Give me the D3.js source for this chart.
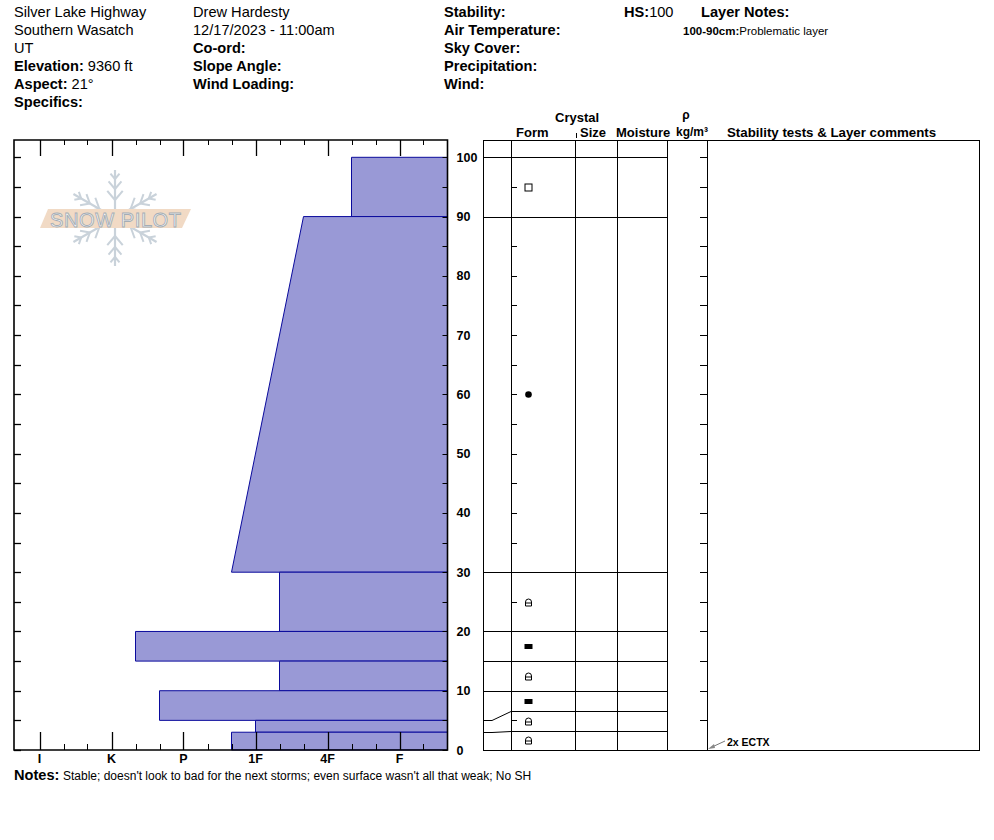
<!DOCTYPE html>
<html>
<head>
<meta charset="utf-8">
<script src="https://cdn.jsdelivr.net/npm/d3@7"></script>
<style>
  body { margin: 0; background: #fff; }
  svg { display: block; font-family: "Liberation Sans", Arial, sans-serif; }
  text { white-space: pre; }
</style>
</head>
<body>
<svg id="pit"></svg>
<script>
// ---- data ----
var depthTop    = [100, 90, 30, 20, 15, 10, 5, 3];
var depthBottom = [90, 30, 20, 15, 10, 5, 3, 0];
var hardTop     = ["4F-", "4F+", "1F-", "K-", "1F-", "P+", "1F", "1F+"];
var hardBottom  = ["4F-", "1F+", "1F-", "K-", "1F-", "P+", "1F", "1F+"];
var grainForm   = ["FC", "RG", "MFcr", "IF", "MFcr", "IF", "MFcr", "MFcr"];

// hardness steps, from the soft (right) end
var hardnessLevels = ["F-", "F", "F+", "4F-", "4F", "4F+", "1F-", "1F", "1F+",
                      "P-", "P", "P+", "K-", "K", "K+", "I-", "I"];
var hardnessLabels = ["F", "4F", "1F", "P", "K", "I"];
var depthLabels = [0, 10, 20, 30, 40, 50, 60, 70, 80, 90, 100];
var depthTicks = [0, 5, 10, 15, 20, 25, 30, 35, 40, 45, 50, 55, 60, 65, 70, 75, 80, 85, 90, 95, 100];

var testDepths = [0];
var testLabels = ["2x ECTX"];

var siteLines = [["", "Silver Lake Highway"], ["", "Southern Wasatch"], ["", "UT"],
                 ["Elevation:", " 9360 ft"], ["Aspect:", " 21°"], ["Specifics:", ""]];
var obsLines  = [["", "Drew Hardesty"], ["", "12/17/2023 - 11:00am"], ["Co-ord:", ""],
                 ["Slope Angle:", ""], ["Wind Loading:", ""]];
var wxLines   = [["Stability:", ""], ["Air Temperature:", ""], ["Sky Cover:", ""],
                 ["Precipitation:", ""], ["Wind:", ""]];
var snowHeight = "100";
var layerNotes = [["100-90cm:", "Problematic layer"]];
var notes = "Stable; doesn't look to bad for the next storms; even surface wasn't all that weak; No SH";

// ---- setup ----
var W = 994, H = 840;
var svg = d3.select("#pit").attr("width", W).attr("height", H);
svg.append("rect").attr("width", W).attr("height", H).attr("fill", "#fff");

var plotTop = 140, plotBottom = 750, plotLeft = 14, plotRight = 447.5;

var y = d3.scaleLinear().domain([0, 100]).range([plotBottom, 157.3]);
var x = d3.scaleLinear().domain([0, 18]).range([plotRight, 15.5]);
var hIdx = function(h) { return hardnessLevels.indexOf(h) + 1; };

function textLine(g, tx, ty, label, value, size) {
    var t = g.append("text").attr("x", tx).attr("y", ty)
        .style("font-size", size).attr("fill", "#000");
    if (label) t.append("tspan").attr("font-weight", "bold").text(label);
    if (value) t.append("tspan").text(value);
    return t;
}

// ---- header ----
var head = svg.append("g");
siteLines.forEach(function(d, i) { textLine(head, 14, 17 + i * 18, d[0], d[1], "14.6px"); });
obsLines.forEach(function(d, i) { textLine(head, 193, 17 + i * 18, d[0], d[1], "14.6px"); });
wxLines.forEach(function(d, i) { textLine(head, 444, 17 + i * 18, d[0], d[1], "14.6px"); });
textLine(head, 624, 17, "HS:", snowHeight, "14.6px");
textLine(head, 701, 17, "Layer Notes:", "", "14.6px");
layerNotes.forEach(function(d, i) { textLine(head, 683, 35 + i * 14, d[0], d[1], "11.5px"); });

// ---- logo ----
var logo = svg.append("g").attr("transform", "translate(115,218)");
var flakeCol = "#c9d2da";
[90, 30, -30, -90, 150, 210].forEach(function(a) {
    var r = a * Math.PI / 180;
    var ux = Math.cos(r), uy = -Math.sin(r);
    logo.append("line").attr("x1", 0).attr("y1", 0).attr("x2", ux * 48).attr("y2", uy * 48)
        .attr("stroke", flakeCol).attr("stroke-width", 2.2);
    [[18, 12], [29, 10], [39, 7]].forEach(function(b) {
        [-1, 1].forEach(function(s) {
            var br = r + s * 0.7;
            logo.append("line")
                .attr("x1", ux * b[0]).attr("y1", uy * b[0])
                .attr("x2", ux * b[0] + Math.cos(br) * b[1]).attr("y2", uy * b[0] - Math.sin(br) * b[1])
                .attr("stroke", flakeCol).attr("stroke-width", 2);
        });
    });
});
logo.append("polygon").attr("points", "-75,10 -67,-9 76,-9 67,10").attr("fill", "#f1dac5");
logo.append("text").attr("x", -65).attr("y", 8.5).attr("textLength", 131)
    .style("font-size", "20px").attr("fill", "#f8f8f8").attr("stroke", "#a4adb5").attr("stroke-width", 0.9)
    .text("SNOW PILOT");

// ---- hardness profile ----
var prof = svg.append("g");
depthTop.forEach(function(t, i) {
    var pts = [[x(0), y(t)], [x(hIdx(hardTop[i])), y(t)],
               [x(hIdx(hardBottom[i])), y(depthBottom[i])], [x(0), y(depthBottom[i])]];
    prof.append("polygon").attr("points", pts.map(function(p) { return p.join(","); }).join(" "))
        .attr("fill", "#9999d6").attr("stroke", "#0a0a9c").attr("stroke-width", 1);
});

// hardness ticks top and bottom
hardnessLevels.forEach(function(h, i) {
    var major = hardnessLabels.indexOf(h) >= 0;
    var xx = Math.round(x(i + 1)) + 0.5;
    prof.append("line").attr("x1", xx).attr("x2", xx).attr("y1", plotBottom).attr("y2", plotBottom - (major ? 18 : 6))
        .attr("stroke", "#000").attr("stroke-width", major ? 1.3 : 1);
    prof.append("line").attr("x1", xx).attr("x2", xx).attr("y1", plotTop).attr("y2", plotTop + (major ? 16 : 5))
        .attr("stroke", "#000").attr("stroke-width", major ? 1.3 : 1);
    if (major) {
        prof.append("text").attr("x", x(i + 1)).attr("y", 762.5).attr("text-anchor", "middle")
            .attr("font-weight", "bold").style("font-size", "12.5px").text(h);
    }
});

// depth ticks on both sides of the profile
depthTicks.forEach(function(d) {
    var yy = Math.round(y(d)) + 0.5;
    prof.append("line").attr("x1", plotLeft).attr("x2", plotLeft + 7).attr("y1", yy).attr("y2", yy)
        .attr("stroke", "#000").attr("stroke-width", 1.3);
    prof.append("line").attr("x1", plotRight).attr("x2", plotRight - 5).attr("y1", yy).attr("y2", yy)
        .attr("stroke", "#000").attr("stroke-width", 1);
});
depthLabels.forEach(function(d) {
    prof.append("text").attr("x", 456.5).attr("y", y(d)).attr("dy", "0.36em")
        .attr("font-weight", "bold").style("font-size", "12.5px").text(d);
});

// frame
prof.append("path")
    .attr("d", "M" + plotLeft + "," + plotTop + "H" + plotRight + "V" + plotBottom + "H" + plotLeft + "Z")
    .attr("fill", "none").attr("stroke", "#000").attr("stroke-width", 1.6);

// ---- layer table ----
var tab = svg.append("g");
var tLeft = 483, cForm = 511, cSize = 575, cMoist = 617, cRho = 667, cStab = 707, tRight = 979, tTop = 140;
var thin = 1;

// display rows, spread out where layers are too thin for a symbol
var minRow = 19.5;
var rows = [];
var prevTop = y(0);
for (var k = depthTop.length - 1; k >= 0; k--) {
    var rowTop = Math.min(y(depthTop[k]), prevTop - minRow);
    rows[k] = { top: rowTop, bottom: prevTop };
    prevTop = rowTop;
}

// boundary lines
depthTop.forEach(function(t, i) {
    var yt = Math.round(y(t)) + 0.5, yd = Math.round(rows[i].top) + 0.5;
    tab.append("path")
        .attr("d", "M" + tLeft + "," + yt + "H" + (tLeft + 9) + "L" + cForm + "," + yd + "H" + cRho)
        .attr("fill", "none").attr("stroke", "#000").attr("stroke-width", thin);
});

// column lines and border
[cForm, cSize, cMoist, cRho, cStab].forEach(function(c) {
    tab.append("line").attr("x1", c + 0.5).attr("x2", c + 0.5).attr("y1", tTop).attr("y2", plotBottom + 0.5)
        .attr("stroke", "#000").attr("stroke-width", thin);
});
tab.append("rect").attr("x", tLeft + 0.5).attr("y", tTop + 0.5)
    .attr("width", tRight - tLeft).attr("height", plotBottom - tTop)
    .attr("fill", "none").attr("stroke", "#000").attr("stroke-width", thin);

// ticks inside form and density columns
depthTicks.forEach(function(d) {
    var yy = Math.round(y(d)) + 0.5;
    tab.append("line").attr("x1", cForm).attr("x2", cForm + 6).attr("y1", yy).attr("y2", yy)
        .attr("stroke", "#000").attr("stroke-width", 1);
    tab.append("line").attr("x1", cStab).attr("x2", cStab - 7).attr("y1", yy).attr("y2", yy)
        .attr("stroke", "#000").attr("stroke-width", 1);
});

// grain form symbols
var symX = 528;
grainForm.forEach(function(f, i) {
    var cy = Math.round((rows[i].top + rows[i].bottom) / 2) + 0.5;
    var g = tab.append("g").attr("transform", "translate(" + (symX + 0.5) + "," + cy + ")");
    if (f === "FC") {
        g.append("rect").attr("x", -3.5).attr("y", -3.5).attr("width", 7).attr("height", 7)
            .attr("fill", "none").attr("stroke", "#000").attr("stroke-width", 1);
    } else if (f === "RG") {
        g.append("circle").attr("r", 3.3).attr("fill", "#000");
    } else if (f === "IF") {
        g.append("rect").attr("x", -4).attr("y", -2.5).attr("width", 8).attr("height", 5).attr("fill", "#000");
    } else if (f === "MFcr") {
        g.append("path").attr("d", "M-3,3.5V-0.5A3,3 0 0 1 3,-0.5V3.5Z M-3,0.5H3")
            .attr("fill", "none").attr("stroke", "#000").attr("stroke-width", 1);
    }
});

// column headings
var hs = "13px";
textLine(tab, 555, 122, "Crystal", "", hs);
textLine(tab, 516, 137, "Form", "", hs);
textLine(tab, 580, 137, "Size", "", hs);
textLine(tab, 616, 137, "Moisture", "", hs);
textLine(tab, 676, 136, "kg/m³", "", "12px");
tab.append("text").attr("x", 686).attr("y", 119).attr("text-anchor", "middle")
    .attr("font-weight", "bold").style("font-size", "12px").text("ρ");
textLine(tab, 727, 137, "Stability tests & Layer comments", "", "13.3px");
tab.append("line").attr("x1", 576.5).attr("x2", 576.5).attr("y1", 133).attr("y2", 138)
    .attr("stroke", "#000").attr("stroke-width", 1);

// stability tests
testDepths.forEach(function(d, i) {
    var ty = y(d) - 1, tx = cStab + 1;
    tab.append("line").attr("x1", tx + 17).attr("y1", ty - 8).attr("x2", tx + 3).attr("y2", ty - 1.5)
        .attr("stroke", "#777").attr("stroke-width", 1);
    tab.append("polygon").attr("points", [tx, ty, tx + 6, ty - 5, tx + 7, ty - 1].join(","))
        .attr("fill", "#888");
    tab.append("text").attr("x", tx + 19).attr("y", ty - 3)
        .attr("font-weight", "bold").style("font-size", "10.5px").text(testLabels[i]);
});

// ---- notes ----
textLine(svg, 14, 779.5, "Notes:", "", "14.6px");
svg.append("text").attr("x", 63).attr("y", 779.5).style("font-size", "12px").text(notes);
</script>
</body>
</html>
